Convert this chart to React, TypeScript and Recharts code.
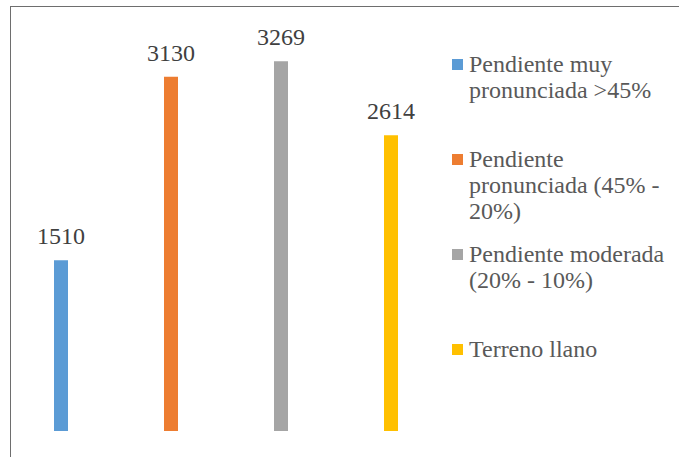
import { BarChart, Bar, XAxis, YAxis, Legend, LabelList } from 'recharts'

// one category, four slope classes drawn as separate series
const CATEGORIES = ['Pendiente']
const SERIES_KEYS = ['muyPronunciada', 'pronunciada', 'moderada', 'llano']
const SERIES_NAMES = [
  'Pendiente muy pronunciada >45%',
  'Pendiente pronunciada (45% - 20%)',
  'Pendiente moderada (20% - 10%)',
  'Terreno llano',
]
const SERIES_VALUES = [1510, 3130, 3269, 2614]
const SERIES_COLORS = ['#5b9bd5', '#ed7d31', '#a5a5a5', '#ffc000']

const FONT = 'Liberation Serif, DejaVu Serif, serif'

const data = CATEGORIES.map((c) => {
  const row: Record<string, string | number> = { category: c }
  SERIES_KEYS.forEach((k, i) => {
    row[k] = SERIES_VALUES[i]
  })
  return row
})

function SlopeLegend({ payload }: { payload?: any[] }) {
  const items = [...(payload ?? [])].sort(
    (a, b) => SERIES_KEYS.indexOf(a.dataKey) - SERIES_KEYS.indexOf(b.dataKey)
  )
  return (
    <div>
      {items.map((item) => (
        <div key={item.dataKey} style={{ display: 'flex', alignItems: 'flex-start', height: 95 }}>
          <span
            style={{
              flex: 'none',
              width: 11,
              height: 11,
              marginTop: 8,
              marginRight: 6,
              background: item.color,
            }}
          />
          <span
            style={{ width: 205, fontSize: 24, lineHeight: '26px', color: '#595959', fontFamily: FONT }}
          >
            {item.value}
          </span>
        </div>
      ))}
    </div>
  )
}

export default function App() {
  return (
    <div
      style={{
        position: 'absolute',
        left: 0,
        top: 0,
        width: 679,
        height: 457,
        overflow: 'hidden',
        background: '#fff',
        fontFamily: FONT,
      }}
    >
      <div
        style={{
          position: 'absolute',
          left: 10,
          top: 6,
          width: 700,
          height: 500,
          border: '1px solid #6e6e6e',
        }}
      />
      <div style={{ position: 'absolute', left: 0, top: 0 }}>
        <BarChart
          width={679}
          height={457}
          data={data}
          margin={{ top: 35, right: 237, bottom: 26, left: 10 }}
          barSize={14}
          barGap={96}
          style={{ fontFamily: FONT }}
        >
          <XAxis dataKey="category" hide />
          <YAxis hide domain={[0, 3500]} />
          <Legend
            layout="horizontal"
            verticalAlign="middle"
            align="center"
            content={<SlopeLegend />}
            wrapperStyle={{ left: 452, top: 51, width: 227, fontFamily: FONT }}
          />
          {SERIES_KEYS.map((k, i) => (
            <Bar
              key={k}
              dataKey={k}
              name={SERIES_NAMES[i]}
              fill={SERIES_COLORS[i]}
              isAnimationActive={false}
            >
              <LabelList
                dataKey={k}
                position="top"
                offset={16}
                fill="#404040"
                fontSize={24}
                fontFamily={FONT}
              />
            </Bar>
          ))}
        </BarChart>
      </div>
    </div>
  )
}
